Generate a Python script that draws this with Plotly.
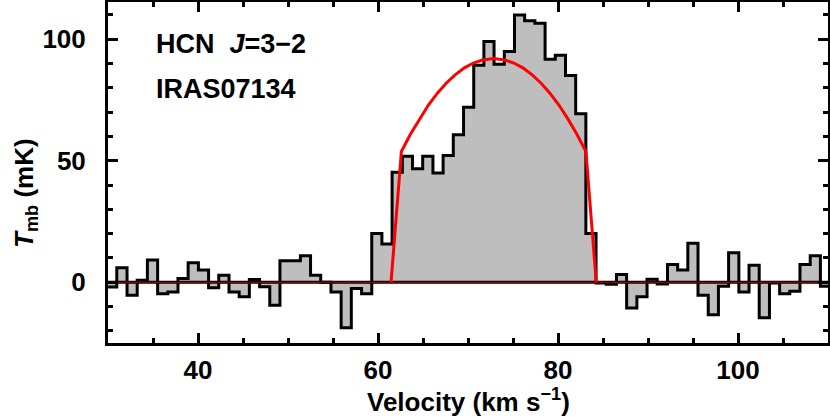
import plotly.graph_objects as go

# Channel velocities (km/s) and brightness (mK)
velocity = [30.41, 31.54, 32.68, 33.81, 34.94, 36.08, 37.21, 38.34, 39.47, 40.61,
            41.74, 42.87, 44.01, 45.14, 46.27, 47.41, 48.54, 49.67, 50.80, 51.94,
            53.07, 54.20, 55.34, 56.47, 57.60, 58.74, 59.87, 61.00, 62.13, 63.27,
            64.40, 65.53, 66.67, 67.80, 68.93, 70.07, 71.20, 72.33, 73.46, 74.60,
            75.73, 76.86, 78.00, 79.13, 80.26, 81.40, 82.53, 83.66, 84.79, 85.93,
            87.06, 88.19, 89.33, 90.46, 91.59, 92.73, 93.86, 94.99, 96.12, 97.26,
            98.39, 99.52, 100.66, 101.79, 102.92, 104.06, 105.19, 106.32, 107.45, 108.59,
            109.72]
tmb = [-2.0, 6.0, -5.4, 0.8, 9.1, -4.7, -4.0, 1.5, 8.0, 5.0,
       -2.3, 2.9, -4.0, -6.0, 1.1, -1.9, -9.5, 8.8, 8.8, 10.9,
       2.9, 0.0, -4.0, -18.7, -2.6, -4.7, 20.1, 15.7, 45.3, 51.8,
       46.7, 51.8, 44.9, 52.1, 60.7, 72.0, 89.3, 99.0, 89.7, 94.9,
       110.0, 107.6, 106.6, 91.7, 93.4, 85.1, 69.3, 20.1, -0.3, -0.8,
       3.2, -10.6, -6.0, 1.2, -0.7, 7.3, 5.0, 16.0, -5.4, -13.4,
       -1.7, 12.1, -4.0, 7.0, -14.6, -0.3, -4.7, -3.7, 7.3, 10.9,
       -1.7]

# Shell-profile fit
fit_v = [61.45, 62.6, 63.6, 64.6, 65.6, 66.6, 67.6, 68.6, 69.6, 70.6, 71.6, 72.85,
         74.1, 75.1, 76.1, 77.1, 78.1, 79.1, 80.1, 81.1, 82.1, 83.1, 84.25]
fit_t = [0.0, 53.8, 60.9, 67.2, 72.9, 77.8, 82.0, 85.4, 88.2, 90.2, 91.4, 92.0,
         91.4, 90.2, 88.2, 85.4, 82.0, 77.8, 72.9, 67.2, 60.9, 53.8, 0.0]

x_range = [30, 110]
y_range = [-25, 115.3]

# build step edges from channel centres
half = (velocity[1] - velocity[0]) / 2.0
step_x = [v - half for v in velocity] + [velocity[-1] + half]
step_y = tmb + [tmb[-1]]

fig = go.Figure()
fig.add_trace(go.Scatter(x=step_x, y=step_y, mode="lines", line_shape="hv",
                         line=dict(color="black", width=3),
                         fill="tozeroy", fillcolor="#bebebe", hoverinfo="skip"))
fig.add_trace(go.Scatter(x=x_range, y=[0, 0], mode="lines",
                         line=dict(color="black", width=3), hoverinfo="skip"))
fig.add_trace(go.Scatter(x=x_range, y=[0, 0], mode="lines",
                         line=dict(color="#c00000", width=1), hoverinfo="skip"))
fig.add_trace(go.Scatter(x=fit_v, y=fit_t, mode="lines",
                         line=dict(color="#ff0000", width=3), hoverinfo="skip"))

font_fam = "Liberation Sans, Arial, sans-serif"
tickfont = dict(family=font_fam, size=26, color="black", weight="bold")

fig.update_xaxes(range=x_range, showgrid=False, zeroline=False, automargin=False,
                 showline=True, linecolor="black", linewidth=3, mirror="allticks",
                 ticks="inside", tick0=0, dtick=20, ticklen=10, tickwidth=2.5,
                 tickcolor="black", tickfont=tickfont, ticklabelstandoff=2,
                 minor=dict(ticks="inside", dtick=5, ticklen=5, tickwidth=2.5,
                            tickcolor="black", showgrid=False))
fig.update_yaxes(range=y_range, showgrid=False, zeroline=False, automargin=False,
                 showline=True, linecolor="black", linewidth=3, mirror="allticks",
                 ticks="inside", tick0=0, dtick=50, ticklen=10, tickwidth=2.5,
                 tickcolor="black", tickfont=tickfont, ticklabelstandoff=14,
                 minor=dict(ticks="inside", dtick=10, ticklen=5, tickwidth=2.5,
                            tickcolor="black", showgrid=False))

annfont = dict(family=font_fam, size=27, color="black", weight="bold")
fig.add_annotation(x=(154 - 108) / 720, y=(343 - 44) / 341, xref="paper", yref="paper",
                   text="HCN  <i>J</i>=3−2", showarrow=False, xanchor="left",
                   yanchor="middle", font=annfont)
fig.add_annotation(x=(154 - 108) / 720, y=(343 - 89) / 341, xref="paper", yref="paper",
                   text="IRAS07134", showarrow=False, xanchor="left",
                   yanchor="middle", font=annfont)
fig.add_annotation(x=0.5, y=(343 - 400) / 341, xref="paper", yref="paper",
                   text="Velocity (km s<sup>−1</sup>)", showarrow=False,
                   xanchor="center", yanchor="middle", font=tickfont)
fig.add_annotation(x=(26 - 108) / 720, y=(343 - 193) / 341, xref="paper", yref="paper",
                   text="<i>T</i><sub>mb</sub> (mK)", showarrow=False, textangle=-90,
                   xanchor="center", yanchor="middle", font=tickfont)

fig.update_layout(width=830, height=417, showlegend=False,
                  plot_bgcolor="white", paper_bgcolor="white",
                  margin=dict(l=108, r=2, t=2, b=74))

fig.write_html("out.html", config={"displayModeBar": False},
               post_script="document.body.style.margin='0';document.body.style.overflow='hidden';")
